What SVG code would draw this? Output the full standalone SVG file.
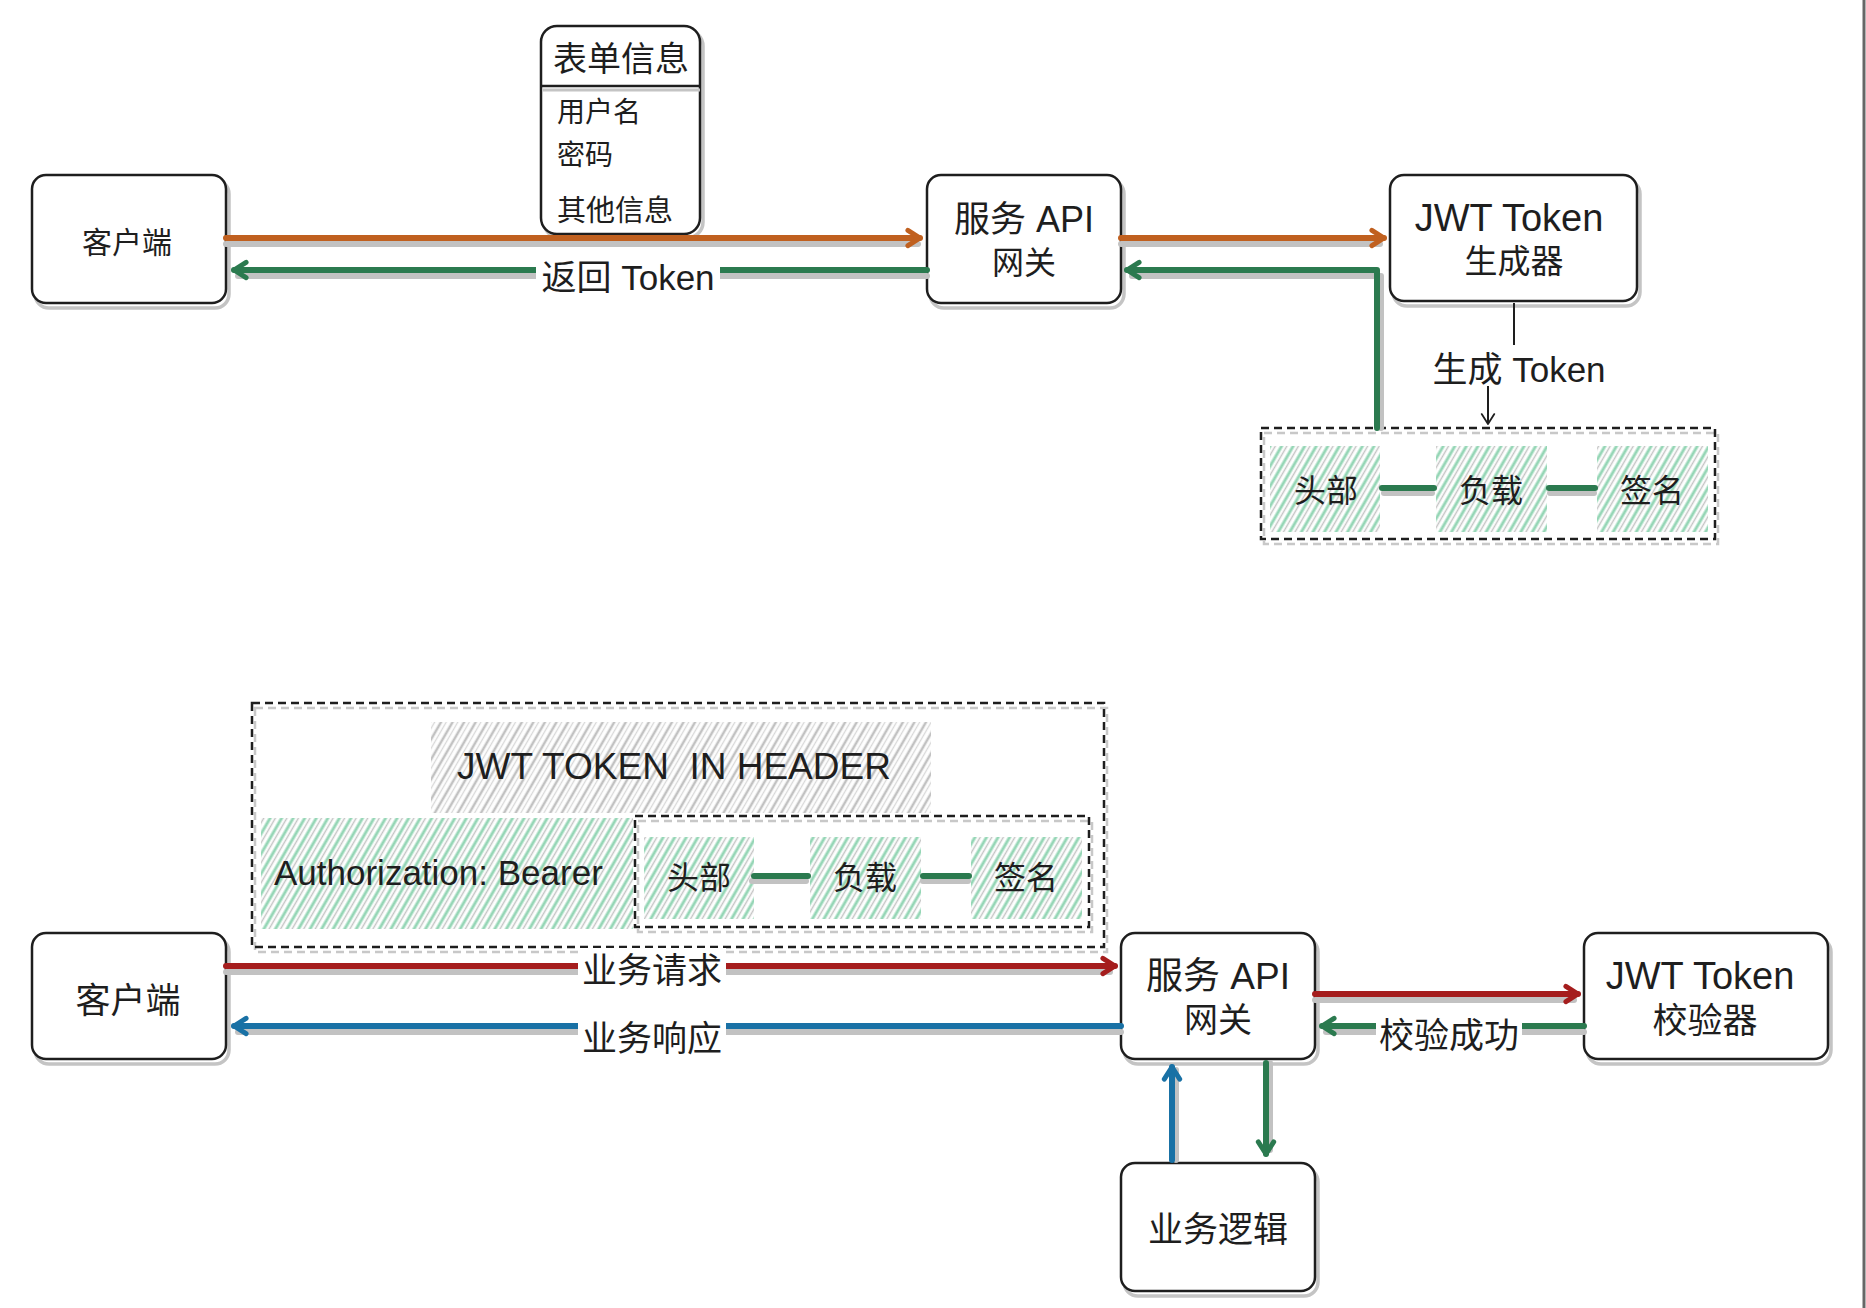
<svg xmlns="http://www.w3.org/2000/svg" width="1866" height="1308" viewBox="0 0 1866 1308">
<style>
.t{font-family:"Liberation Sans","Noto Sans CJK SC",sans-serif;fill:#1e1e1e;text-anchor:middle;dominant-baseline:central}
.tl{font-family:"Liberation Sans","Noto Sans CJK SC",sans-serif;fill:#1e1e1e;text-anchor:start;dominant-baseline:central}
.box{fill:#fff;stroke:#1e1e1e;stroke-width:2.5}
.shadow{fill:none;stroke:#c4c4c4;stroke-width:3.5}
.dash{fill:none;stroke:#1e1e1e;stroke-width:2.5;stroke-dasharray:8 5}
.dashs{fill:none;stroke:#c8c8c8;stroke-width:2.5;stroke-dasharray:8 5}
.ln{fill:none;stroke-width:6;stroke-linecap:round;stroke-linejoin:round}
.lns{fill:none;stroke:#c2c2c2;stroke-width:6;stroke-linecap:round;stroke-linejoin:round}
.orange{stroke:#c0601f}
.green{stroke:#2b7a4f}
.red{stroke:#a51d1d}
.blue{stroke:#1971a5}
.bg{fill:#fff}
</style>
<defs>
<pattern id="hg" patternUnits="userSpaceOnUse" width="10" height="10" patternTransform="rotate(30)">
<line x1="3" y1="0" x2="3" y2="10" stroke="#96d6b6" stroke-width="3"/>
<line x1="7.5" y1="0" x2="7.5" y2="10" stroke="#c4c4c4" stroke-width="1.5"/>
</pattern>
<pattern id="hgray" patternUnits="userSpaceOnUse" width="10" height="10" patternTransform="rotate(30)">
<line x1="3" y1="0" x2="3" y2="10" stroke="#c2c2c2" stroke-width="2.6"/>
<line x1="7.5" y1="0" x2="7.5" y2="10" stroke="#d8d8d8" stroke-width="1.4"/>
</pattern>
<marker id="a-orange" viewBox="0 0 20 20" refX="16" refY="10" markerWidth="22" markerHeight="22" markerUnits="userSpaceOnUse" orient="auto"><path d="M5,3 L16,10 L5,17" fill="none" stroke="#c0601f" stroke-width="4.5" stroke-linecap="round" stroke-linejoin="round"/></marker>
<marker id="a-green" viewBox="0 0 20 20" refX="16" refY="10" markerWidth="22" markerHeight="22" markerUnits="userSpaceOnUse" orient="auto"><path d="M5,3 L16,10 L5,17" fill="none" stroke="#2b7a4f" stroke-width="4.5" stroke-linecap="round" stroke-linejoin="round"/></marker>
<marker id="a-red" viewBox="0 0 20 20" refX="16" refY="10" markerWidth="22" markerHeight="22" markerUnits="userSpaceOnUse" orient="auto"><path d="M5,3 L16,10 L5,17" fill="none" stroke="#a51d1d" stroke-width="4.5" stroke-linecap="round" stroke-linejoin="round"/></marker>
<marker id="a-blue" viewBox="0 0 20 20" refX="16" refY="10" markerWidth="22" markerHeight="22" markerUnits="userSpaceOnUse" orient="auto"><path d="M5,3 L16,10 L5,17" fill="none" stroke="#1971a5" stroke-width="4.5" stroke-linecap="round" stroke-linejoin="round"/></marker>
<marker id="a-black" viewBox="0 0 20 20" refX="16" refY="10" markerWidth="18" markerHeight="18" markerUnits="userSpaceOnUse" orient="auto"><path d="M5,3 L16,10 L5,17" fill="none" stroke="#1e1e1e" stroke-width="2" stroke-linecap="round" stroke-linejoin="round"/></marker>
</defs>
<rect width="1866" height="1308" fill="#fff"/>
<line x1="1864" y1="0" x2="1864" y2="1308" stroke="#666" stroke-width="3"/>

<!-- ===== TOP: nodes ===== -->
<g id="client-top">
<rect class="shadow" x="35" y="180" width="194" height="128" rx="14"/>
<rect class="box" x="32" y="175" width="194" height="128" rx="14"/>
<text class="t" x="127" y="242" font-size="30">客户端</text>
</g>

<g id="gateway-top">
<rect class="shadow" x="930" y="180" width="194" height="128" rx="14"/>
<rect class="box" x="927" y="175" width="194" height="128" rx="14"/>
<text class="t" x="1024" y="219" font-size="36">服务 API</text>
<text class="t" x="1024" y="263" font-size="32">网关</text>
</g>

<g id="jwt-generator">
<rect class="shadow" x="1393" y="180" width="247" height="126" rx="14"/>
<rect class="box" x="1390" y="175" width="247" height="126" rx="14"/>
<text class="t" x="1509" y="218" font-size="38">JWT Token</text>
<text class="t" x="1514" y="261" font-size="33">生成器</text>
</g>

<g id="form-info">
<rect class="shadow" x="544" y="30" width="159" height="208" rx="16"/>
<rect class="box" x="541" y="26" width="159" height="208" rx="16"/>
<line x1="543" y1="90" x2="700" y2="90" stroke="#c4c4c4" stroke-width="3"/>
<line x1="541" y1="86" x2="700" y2="86" stroke="#1e1e1e" stroke-width="2.5"/>
<text class="t" x="621" y="59" font-size="34">表单信息</text>
<text class="tl" x="557" y="112" font-size="28">用户名</text>
<text class="tl" x="557" y="155" font-size="28">密码</text>
<text class="tl" x="557" y="211" font-size="29">其他信息</text>
</g>

<g id="token-parts-top">
<rect class="dashs" x="1264" y="433" width="454" height="111"/>
<rect class="dash" x="1261" y="428" width="454" height="111"/>
<rect x="1270" y="446" width="110" height="86" fill="url(#hg)"/>
<rect x="1436" y="446" width="111" height="86" fill="url(#hg)"/>
<rect x="1597" y="446" width="111" height="86" fill="url(#hg)"/>
<text class="t" x="1326" y="491" font-size="32">头部</text>
<text class="t" x="1491" y="491" font-size="32">负载</text>
<text class="t" x="1652" y="491" font-size="32">签名</text>
</g>

<!-- ===== BOTTOM: nodes ===== -->
<g id="header-box">
<rect class="dashs" x="255" y="708" width="852" height="244"/>
<rect class="dash" x="252" y="703" width="852" height="244"/>
<rect x="431" y="722" width="500" height="91" fill="url(#hgray)"/>
<text class="t" x="674" y="766" font-size="37" xml:space="preserve" style="white-space:pre">JWT TOKEN  IN HEADER</text>
<rect x="261" y="818" width="372" height="111" fill="url(#hg)"/>
<text class="tl" x="274" y="872" font-size="35">Authorization: Bearer</text>
<rect class="dashs" x="638" y="821" width="454" height="111"/>
<rect class="dash" x="635" y="816" width="454" height="111"/>
<rect x="644" y="837" width="110" height="82" fill="url(#hg)"/>
<rect x="810" y="837" width="111" height="82" fill="url(#hg)"/>
<rect x="971" y="837" width="111" height="82" fill="url(#hg)"/>
<text class="t" x="699" y="878" font-size="32">头部</text>
<text class="t" x="865" y="878" font-size="32">负载</text>
<text class="t" x="1026" y="878" font-size="32">签名</text>
</g>

<g id="client-bottom">
<rect class="shadow" x="35" y="938" width="194" height="126" rx="14"/>
<rect class="box" x="32" y="933" width="194" height="126" rx="14"/>
<text class="t" x="128" y="1000" font-size="35">客户端</text>
</g>

<g id="gateway-bottom">
<rect class="shadow" x="1124" y="938" width="194" height="126" rx="14"/>
<rect class="box" x="1121" y="933" width="194" height="126" rx="14"/>
<text class="t" x="1218" y="976" font-size="37">服务 API</text>
<text class="t" x="1218" y="1020" font-size="34">网关</text>
</g>

<g id="jwt-validator">
<rect class="shadow" x="1587" y="938" width="244" height="126" rx="14"/>
<rect class="box" x="1584" y="933" width="244" height="126" rx="14"/>
<text class="t" x="1700" y="976" font-size="38">JWT Token</text>
<text class="t" x="1705" y="1020" font-size="35">校验器</text>
</g>

<g id="business-logic">
<rect class="shadow" x="1124" y="1168" width="194" height="128" rx="14"/>
<rect class="box" x="1121" y="1163" width="194" height="128" rx="14"/>
<text class="t" x="1218" y="1229" font-size="35">业务逻辑</text>
</g>

<!-- ===== connectors ===== -->
<g id="connectors">
<!-- top -->
<path class="lns" d="M226,244 L918,244"/>
<path class="ln orange" d="M226,238 L920,238" marker-end="url(#a-orange)"/>
<path class="lns" d="M1121,244 L1380,244"/>
<path class="ln orange" d="M1121,238 L1384,238" marker-end="url(#a-orange)"/>
<path class="lns" d="M927,276 L238,276"/>
<path class="ln green" d="M927,270 L234,270" marker-end="url(#a-green)"/>
<rect class="bg" x="536" y="254" width="184" height="44"/>
<text class="t" x="628" y="277" font-size="35">返回 Token</text>
<path class="lns" d="M1381,428 L1381,276 L1132,276"/>
<path class="ln green" d="M1377,428 L1377,270 L1127,270" marker-end="url(#a-green)"/>
<line x1="1514" y1="303" x2="1514" y2="345" stroke="#1e1e1e" stroke-width="2"/>
<text class="t" x="1519" y="369" font-size="35">生成 Token</text>
<path d="M1488,386 L1488,424" fill="none" stroke="#1e1e1e" stroke-width="2" marker-end="url(#a-black)"/>
<path class="lns" d="M1384,493 L1432,493"/>
<path class="ln green" d="M1382,488 L1434,488"/>
<path class="lns" d="M1550,493 L1594,493"/>
<path class="ln green" d="M1549,488 L1595,488"/>
<!-- bottom -->
<path class="lns" d="M752,881 L806,881"/>
<path class="ln green" d="M754,876 L808,876"/>
<path class="lns" d="M923,881 L968,881"/>
<path class="ln green" d="M923,876 L969,876"/>
<path class="lns" d="M226,972 L1110,972"/>
<path class="ln red" d="M226,966 L1115,966" marker-end="url(#a-red)"/>
<rect class="bg" x="578" y="948" width="148" height="46"/>
<text class="t" x="652" y="970" font-size="35">业务请求</text>
<path class="lns" d="M1121,1032 L238,1032"/>
<path class="ln blue" d="M1121,1026 L234,1026" marker-end="url(#a-blue)"/>
<rect class="bg" x="578" y="1012" width="148" height="48"/>
<text class="t" x="652" y="1038" font-size="35">业务响应</text>
<path class="lns" d="M1315,1000 L1574,1000"/>
<path class="ln red" d="M1315,994 L1578,994" marker-end="url(#a-red)"/>
<path class="lns" d="M1584,1032 L1326,1032"/>
<path class="ln green" d="M1584,1026 L1322,1026" marker-end="url(#a-green)"/>
<rect class="bg" x="1376" y="1010" width="146" height="48"/>
<text class="t" x="1449" y="1035" font-size="35">校验成功</text>
<path class="lns" d="M1176,1160 L1176,1070"/>
<path class="ln blue" d="M1172,1160 L1172,1067" marker-end="url(#a-blue)"/>
<path class="lns" d="M1270,1063 L1270,1150"/>
<path class="ln green" d="M1266,1063 L1266,1154" marker-end="url(#a-green)"/>
</g>
</svg>
